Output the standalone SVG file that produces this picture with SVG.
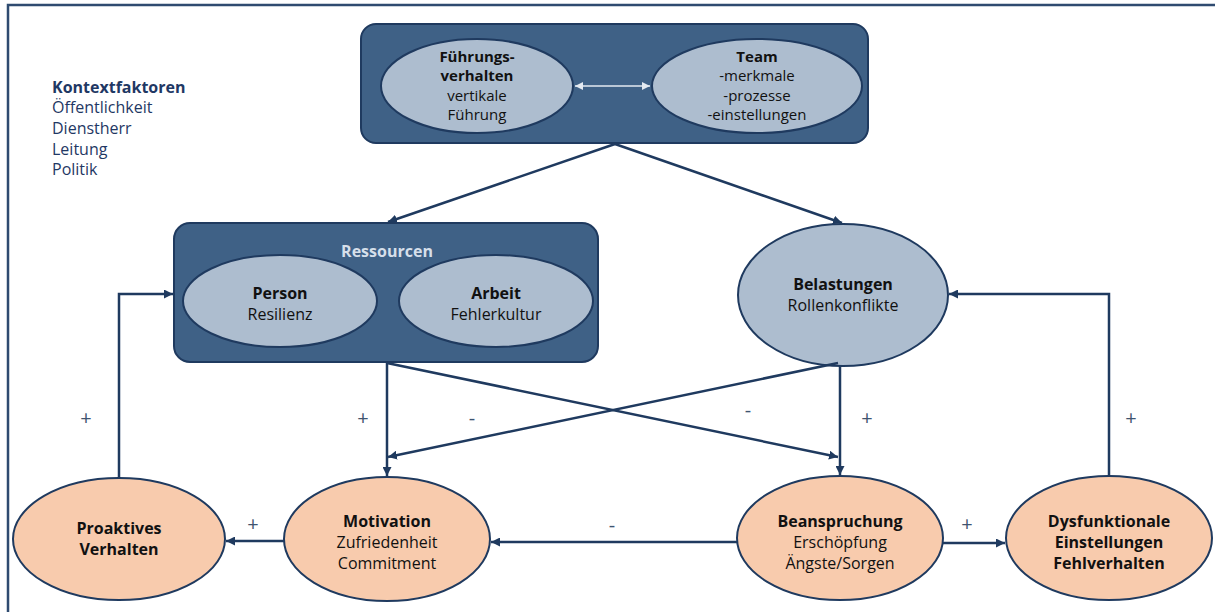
<svg xmlns="http://www.w3.org/2000/svg" width="1215" height="612" viewBox="0 0 1215 612">
<defs>
<style>
text{font-family:"Open Sans","Noto Sans","Liberation Sans",sans-serif;font-size:16px;fill:#111;text-anchor:middle}
.b{font-weight:700}
.t{font-size:15px}
.ctx{text-anchor:start;fill:#1f3864}
.lbl{fill:#3f5470;font-size:20px}
.box{fill:#3f6186;stroke:#1f3a5f;stroke-width:2}
.el{fill:#adbdcf;stroke:#1f3a5f;stroke-width:2}
.eo{fill:#f8cbad;stroke:#1f3a5f;stroke-width:2}
.c{fill:none;stroke:#1f3a5f;stroke-width:2.5}
</style>
<marker id="ah" viewBox="0 0 10 10" refX="10" refY="5" markerWidth="9" markerHeight="9" markerUnits="userSpaceOnUse" orient="auto-start-reverse"><path d="M0,0 L10,5 L0,10 z" fill="#1f3a5f"/></marker>
<marker id="aw" viewBox="0 0 10 10" refX="10" refY="5" markerWidth="8" markerHeight="8" markerUnits="userSpaceOnUse" orient="auto-start-reverse"><path d="M0,0 L10,5 L0,10 z" fill="#e4eaf1"/></marker>
</defs>
<rect x="0" y="0" width="1215" height="612" fill="#fff"/>
<rect x="8" y="5" width="1220" height="630" fill="none" stroke="#2f4b70" stroke-width="2.5"/>

<g id="kontext">
<text class="ctx b" x="52" y="93">Kontextfaktoren</text>
<text class="ctx" x="52" y="113">Öffentlichkeit</text>
<text class="ctx" x="52" y="134">Dienstherr</text>
<text class="ctx" x="52" y="155">Leitung</text>
<text class="ctx" x="52" y="175">Politik</text>
</g>

<g id="fuehrung-team">
<rect class="box" x="361" y="24" width="507" height="119" rx="15"/>
<g id="fuehrung">
<ellipse class="el" cx="477" cy="86" rx="96" ry="47"/>
<text class="b t" x="477" y="62">Führungs-</text>
<text class="b t" x="477" y="81">verhalten</text>
<text class="t" x="477" y="101">vertikale</text>
<text class="t" x="477" y="120">Führung</text>
</g>
<g id="team">
<ellipse class="el" cx="757" cy="86" rx="105" ry="47"/>
<text class="b t" x="757" y="62">Team</text>
<text class="t" x="757" y="81">-merkmale</text>
<text class="t" x="757" y="101">-prozesse</text>
<text class="t" x="757" y="120">-einstellungen</text>
</g>
<line x1="575" y1="86" x2="650" y2="86" stroke="#e4eaf1" stroke-width="1.5" marker-start="url(#aw)" marker-end="url(#aw)"/>
</g>

<g id="ressourcen">
<rect class="box" x="174" y="223" width="424" height="139" rx="16"/>
<text class="b" x="387" y="257" style="fill:#d6dfea">Ressourcen</text>
<g id="person">
<ellipse class="el" cx="280" cy="301" rx="97" ry="46"/>
<text class="b" x="280" y="299">Person</text>
<text x="280" y="320">Resilienz</text>
</g>
<g id="arbeit">
<ellipse class="el" cx="496" cy="301" rx="97" ry="46"/>
<text class="b" x="496" y="299">Arbeit</text>
<text x="496" y="320">Fehlerkultur</text>
</g>
</g>

<g id="belastungen">
<ellipse class="el" cx="843" cy="295" rx="105" ry="71"/>
<text class="b" x="843" y="290">Belastungen</text>
<text x="843" y="311">Rollenkonflikte</text>
</g>

<g id="proaktiv">
<ellipse class="eo" cx="119" cy="539" rx="106" ry="61"/>
<text class="b" x="119" y="534">Proaktives</text>
<text class="b" x="119" y="555">Verhalten</text>
</g>
<g id="motivation">
<ellipse class="eo" cx="387" cy="539" rx="103" ry="62"/>
<text class="b" x="387" y="527">Motivation</text>
<text x="387" y="548">Zufriedenheit</text>
<text x="387" y="569">Commitment</text>
</g>
<g id="beanspruchung">
<ellipse class="eo" cx="840" cy="538" rx="103" ry="62"/>
<text class="b" x="840" y="527">Beanspruchung</text>
<text x="840" y="548">Erschöpfung</text>
<text x="840" y="569">Ängste/Sorgen</text>
</g>
<g id="dysfunktional">
<ellipse class="eo" cx="1109" cy="538" rx="103" ry="62"/>
<text class="b" x="1109" y="527">Dysfunktionale</text>
<text class="b" x="1109" y="548">Einstellungen</text>
<text class="b" x="1109" y="569">Fehlverhalten</text>
</g>

<g id="connectors">
<line class="c" x1="615" y1="144" x2="388" y2="222" marker-end="url(#ah)"/>
<line class="c" x1="615" y1="144" x2="842" y2="223" marker-end="url(#ah)"/>
<line class="c" x1="387" y1="362" x2="387" y2="476" marker-end="url(#ah)"/>
<line class="c" x1="840" y1="366" x2="840" y2="475" marker-end="url(#ah)"/>
<line class="c" x1="387" y1="363" x2="838" y2="457" marker-end="url(#ah)"/>
<line class="c" x1="838" y1="363" x2="388" y2="457" marker-end="url(#ah)"/>
<polyline class="c" points="119,478 119,294 173,294" marker-end="url(#ah)"/>
<polyline class="c" points="1109,476 1109,294 949,294" marker-end="url(#ah)"/>
<line class="c" x1="284" y1="541" x2="226" y2="541" marker-end="url(#ah)"/>
<line class="c" x1="737" y1="542" x2="491" y2="542" marker-end="url(#ah)"/>
<line class="c" x1="943" y1="543" x2="1005" y2="543" marker-end="url(#ah)"/>
<text class="lbl" x="86" y="425">+</text>
<text class="lbl" x="363" y="425">+</text>
<text class="lbl" x="472" y="425">-</text>
<text class="lbl" x="748" y="417">-</text>
<text class="lbl" x="867" y="425">+</text>
<text class="lbl" x="1131" y="425">+</text>
<text class="lbl" x="253" y="531">+</text>
<text class="lbl" x="612" y="532">-</text>
<text class="lbl" x="967" y="531">+</text>
</g>
</svg>
